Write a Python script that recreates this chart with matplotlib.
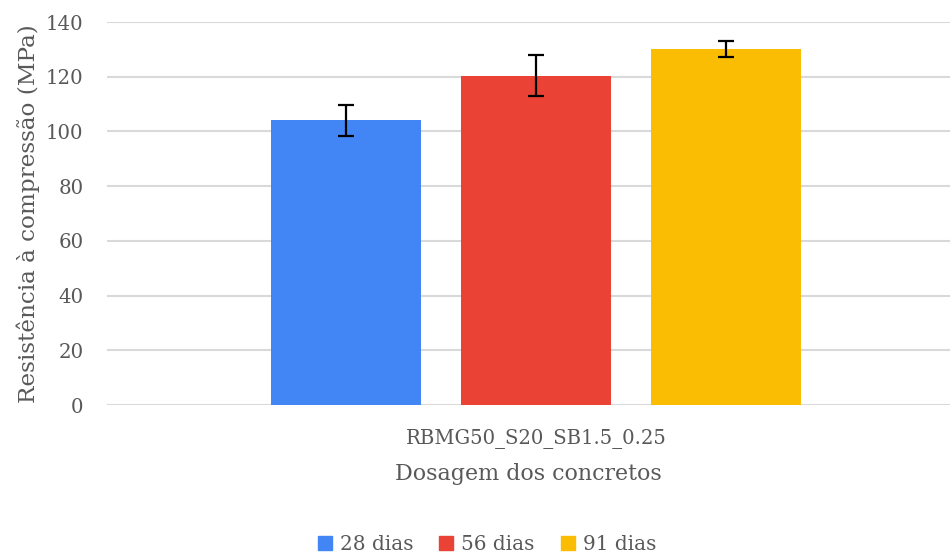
import numpy as np
import matplotlib.pyplot as plt
from matplotlib.patches import Patch

# data
category = 'RBMG50_S20_SB1.5_0.25'
series = ['28 dias', '56 dias', '91 dias']
means = [104.0, 120.3, 130.2]
errors = [5.8, 7.5, 2.9]
colors = ['#4285F4', '#EA4335', '#FBBC04']

TEXT = '#595959'
plt.rcParams['font.family'] = ['DejaVu Serif']

fig = plt.figure(figsize=(9.5, 5.53), dpi=100)
ax = fig.add_axes([0.1126, 0.2676, 0.8874, 0.6926])

offsets = np.array([-1, 0, 1])
width = 150 / 190
for off, m, e, c in zip(offsets, means, errors, colors):
    ax.bar(off, m, width=width, color=c, zorder=2)
    ax.errorbar(off, m, yerr=e, fmt='none', ecolor='black', elinewidth=1.6,
                capsize=6, capthick=1.6, zorder=3)

ax.set_ylim(0, 140)
ax.set_yticks(np.arange(0, 141, 20))
ax.set_xlim(-2.258, 2.179)
ax.set_xticks([0])
ax.set_xticklabels([category])
ax.grid(axis='y', color='#d9d9d9', linewidth=1.5, zorder=0)
ax.set_axisbelow(True)
for s in ax.spines.values():
    s.set_visible(False)
ax.tick_params(length=0, labelsize=14.2, colors=TEXT)
ax.tick_params(axis='y', pad=17)
ax.tick_params(axis='x', labelsize=14.1, pad=17)
ax.set_ylabel('Resistência à compressão (MPa)', fontsize=16.7, color=TEXT, labelpad=4)
ax.set_xlabel('Dosagem dos concretos', fontsize=15.9, color=TEXT, labelpad=10)

handles = [Patch(color=c, label=s) for s, c in zip(series, colors)]
fig.legend(handles=handles, loc='center', bbox_to_anchor=(487 / 950, 1 - 544 / 553),
           ncol=3, frameon=False, fontsize=14.4, labelcolor=TEXT,
           handlelength=0.7, handleheight=0.7, handletextpad=0.4, columnspacing=1.3)

fig.savefig('out.png', dpi=100)
